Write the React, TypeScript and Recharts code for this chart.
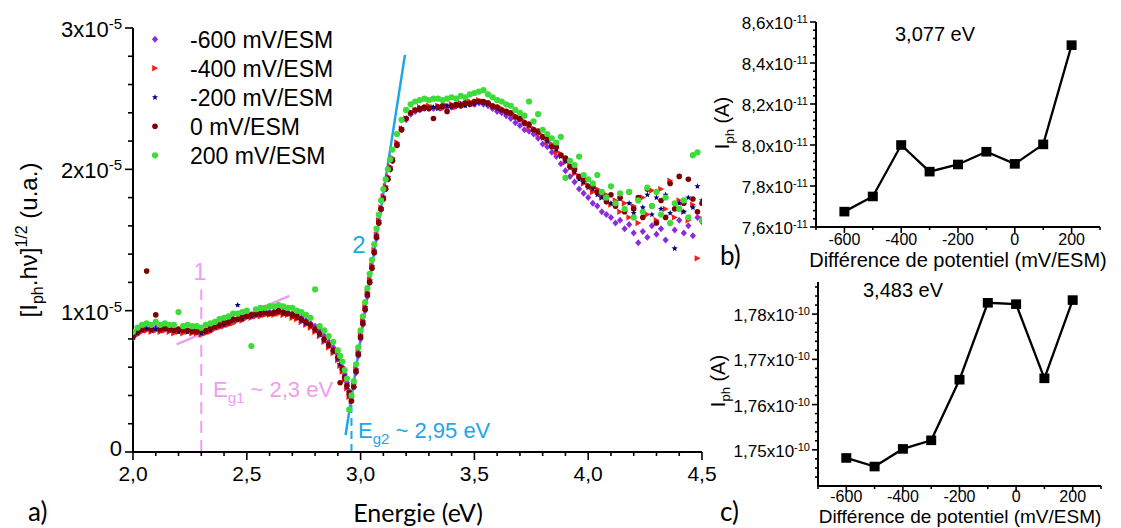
import React from 'react';
import { ScatterChart, Scatter, XAxis, YAxis, ReferenceLine, LineChart, Line } from 'recharts';

// ---------- Panel a) data : energy (eV) and [Iph.hv]^1/2 in units of 1e-5 ----------
const energies = [
  2.00, 2.02, 2.04, 2.06, 2.08, 2.10, 2.12, 2.14, 2.16, 2.18,
  2.20, 2.22, 2.24, 2.26, 2.28, 2.30, 2.32, 2.34, 2.36, 2.38,
  2.40, 2.42, 2.44, 2.46, 2.48, 2.50, 2.52, 2.54, 2.56, 2.58,
  2.60, 2.62, 2.64, 2.66, 2.68, 2.70, 2.72, 2.74, 2.76, 2.78,
  2.80, 2.82, 2.84, 2.86, 2.88, 2.90,
  2.91, 2.92, 2.93, 2.94, 2.95, 2.96, 2.97, 2.98, 2.99, 3.00,
  3.01, 3.02, 3.03, 3.04, 3.05, 3.06, 3.07, 3.08, 3.09, 3.10,
  3.11, 3.12, 3.13, 3.14,
  3.16, 3.18, 3.20, 3.22, 3.24, 3.26, 3.28, 3.30, 3.32, 3.34,
  3.36, 3.38, 3.40, 3.42, 3.44, 3.46, 3.48, 3.50, 3.52, 3.54,
  3.56, 3.58, 3.60, 3.62, 3.64, 3.66, 3.68, 3.70, 3.72, 3.74,
  3.76, 3.78, 3.80, 3.82, 3.84, 3.86, 3.88, 3.90, 3.92, 3.94,
  3.96, 3.98, 4.00, 4.02, 4.04, 4.06, 4.08, 4.10, 4.12, 4.14,
  4.16, 4.18, 4.20, 4.22, 4.24, 4.26, 4.28, 4.30, 4.32, 4.34,
  4.36, 4.38, 4.40, 4.42, 4.44, 4.46, 4.48, 4.50,
];

const valsM600 = [
  0.81, 0.85, 0.87, 0.88, 0.87, 0.88, 0.87, 0.88, 0.87, 0.87,
  0.86, 0.87, 0.86, 0.87, 0.86, 0.85, 0.86, 0.87, 0.89, 0.90,
  0.91, 0.92, 0.94, 0.94, 0.95, 0.96, 0.97, 0.98, 0.98, 0.98,
  0.99, 0.99, 0.99, 0.99, 0.99, 0.98, 0.97, 0.95, 0.93, 0.91,
  0.89, 0.86, 0.82, 0.78, 0.74, 0.69,
  0.65, 0.60, 0.55, 0.49, 0.43, 0.39, 0.46, 0.56, 0.68, 0.80,
  0.90, 1.00, 1.10, 1.20, 1.30, 1.41, 1.51, 1.62, 1.71, 1.79,
  1.86, 1.93, 2.00, 2.06,
  2.17, 2.28, 2.35, 2.39, 2.41, 2.42, 2.43, 2.43, 2.43, 2.44,
  2.44, 2.44, 2.44, 2.45, 2.45, 2.46, 2.46, 2.46, 2.47, 2.46,
  2.45, 2.43, 2.41, 2.40, 2.38, 2.36, 2.33, 2.31, 2.28, 2.27,
  2.25, 2.22, 2.18, 2.16, 2.12, 2.09, 2.04, 1.99, 1.95, 1.91,
  1.86, 1.83, 1.80, 1.76, 1.74, 1.70, 1.68, 1.66, 1.62, 1.64,
  1.58, 1.61, 1.55, 1.48, 1.56, 1.52, 1.60, 1.54, 1.58, 1.50,
  1.62, 1.57, 1.64, 1.55, 1.60, 1.53, 1.66, 1.63,
];

const valsM400 = [
  0.80, 0.83, 0.85, 0.86, 0.85, 0.86, 0.85, 0.86, 0.85, 0.84,
  0.85, 0.84, 0.85, 0.84, 0.84, 0.83, 0.84, 0.85, 0.87, 0.88,
  0.89, 0.90, 0.91, 0.93, 0.93, 0.95, 0.95, 0.96, 0.96, 0.97,
  0.97, 0.97, 0.98, 0.97, 0.97, 0.95, 0.94, 0.92, 0.90, 0.88,
  0.85, 0.82, 0.78, 0.74, 0.70, 0.65,
  0.61, 0.57, 0.51, 0.45, 0.39, 0.36, 0.48, 0.59, 0.71, 0.83,
  0.93, 1.03, 1.13, 1.22, 1.32, 1.43, 1.54, 1.64, 1.73, 1.81,
  1.88, 1.95, 2.02, 2.08,
  2.19, 2.29, 2.36, 2.40, 2.42, 2.44, 2.43, 2.45, 2.44, 2.45,
  2.43, 2.45, 2.46, 2.44, 2.47, 2.46, 2.48, 2.47, 2.49, 2.48,
  2.47, 2.45, 2.44, 2.43, 2.41, 2.40, 2.38, 2.35, 2.34, 2.30,
  2.29, 2.25, 2.24, 2.19, 2.18, 2.12, 2.11, 2.05, 2.03, 1.97,
  1.95, 1.90, 1.89, 1.84, 1.86, 1.80, 1.82, 1.75, 1.78, 1.70,
  1.76, 1.66, 1.74, 1.62, 1.80, 1.68, 1.85, 1.64, 1.86, 1.72,
  1.92, 1.66, 1.78, 1.70, 1.64, 1.75, 1.37, 1.65,
];

const valsM200 = [
  0.81, 0.84, 0.86, 0.87, 0.86, 0.87, 0.86, 0.87, 0.86, 0.86,
  0.85, 0.86, 0.85, 0.85, 0.85, 0.84, 0.85, 0.86, 0.88, 0.89,
  0.90, 0.91, 0.93, 1.04, 0.94, 0.96, 0.96, 0.97, 0.97, 0.98,
  0.98, 0.98, 0.99, 0.98, 0.98, 0.96, 0.95, 0.93, 0.91, 0.89,
  0.86, 0.83, 0.79, 0.75, 0.71, 0.66,
  0.62, 0.58, 0.52, 0.46, 0.40, 0.38, 0.48, 0.58, 0.70, 0.82,
  0.92, 1.02, 1.12, 1.21, 1.31, 1.42, 1.53, 1.63, 1.72, 1.80,
  1.87, 1.94, 2.01, 2.07,
  2.18, 2.29, 2.36, 2.40, 2.42, 2.42, 2.43, 2.43, 2.44, 2.43,
  2.44, 2.45, 2.44, 2.45, 2.46, 2.45, 2.47, 2.46, 2.48, 2.47,
  2.46, 2.44, 2.43, 2.42, 2.40, 2.39, 2.37, 2.35, 2.32, 2.31,
  2.28, 2.26, 2.22, 2.20, 2.16, 2.14, 2.09, 2.06, 2.01, 1.98,
  1.93, 1.91, 1.87, 1.86, 1.82, 1.80, 1.78, 1.76, 1.74, 1.79,
  1.71, 1.76, 1.69, 1.78, 1.73, 1.82, 1.68, 1.80, 1.72, 1.82,
  1.69, 1.44, 1.76, 1.70, 1.80, 1.73, 1.88, 1.78,
];

const vals0 = [
  0.82, 0.85, 0.87, 1.28, 0.87, 0.97, 0.87, 0.88, 0.87, 0.86,
  0.87, 0.86, 0.86, 0.86, 0.85, 0.86, 0.86, 0.88, 0.89, 0.90,
  0.92, 0.92, 0.94, 0.94, 0.96, 0.96, 0.97, 0.98, 0.98, 0.99,
  0.98, 0.99, 1.00, 0.99, 0.98, 0.97, 0.96, 0.94, 0.92, 0.90,
  0.87, 0.84, 0.80, 0.76, 0.72, 0.67,
  0.49, 0.59, 0.53, 0.47, 0.42, 0.36, 0.46, 0.57, 0.69, 0.81,
  0.91, 1.01, 1.11, 1.20, 1.30, 1.41, 1.52, 1.62, 1.72, 1.79,
  1.86, 1.93, 2.00, 2.06,
  2.17, 2.28, 2.36, 2.40, 2.42, 2.43, 2.44, 2.43, 2.36, 2.44,
  2.45, 2.41, 2.45, 2.46, 2.45, 2.47, 2.46, 2.48, 2.48, 2.48,
  2.47, 2.45, 2.44, 2.42, 2.41, 2.40, 2.37, 2.36, 2.33, 2.32,
  2.28, 2.27, 2.23, 2.22, 2.16, 2.16, 2.10, 2.08, 2.02, 2.00,
  1.95, 1.93, 1.88, 1.88, 1.84, 1.83, 1.77, 1.82, 1.74, 1.80,
  1.70, 1.84, 1.72, 1.80, 1.66, 1.86, 1.74, 1.62, 1.78, 1.66,
  1.90, 1.72, 1.95, 1.76, 1.93, 1.79, 1.70, 1.76,
];

const valsP200 = [
  0.85, 0.88, 0.90, 0.91, 0.90, 0.92, 0.90, 0.91, 0.90, 0.90,
  0.99, 0.89, 0.90, 0.89, 0.89, 0.88, 0.90, 0.91, 0.92, 0.94,
  0.95, 0.96, 0.98, 0.98, 0.99, 1.00, 0.75, 1.01, 1.02, 1.02,
  1.03, 1.03, 1.04, 1.03, 1.02, 1.02, 1.00, 0.99, 0.97, 0.95,
  1.15, 0.89, 0.86, 0.82, 0.78, 0.72,
  0.68, 0.64, 0.58, 0.52, 0.30, 0.40, 0.50, 0.62, 0.74, 0.86,
  0.96, 1.06, 1.16, 1.26, 1.36, 1.47, 1.58, 1.68, 1.78, 1.86,
  1.93, 2.00, 2.07, 2.14,
  2.25, 2.35, 2.42, 2.46, 2.48, 2.49, 2.50, 2.49, 2.50, 2.50,
  2.49, 2.50, 2.51, 2.50, 2.52, 2.51, 2.53, 2.54, 2.55, 2.56,
  2.53, 2.51, 2.49, 2.48, 2.46, 2.45, 2.42, 2.40, 2.38, 2.48,
  2.34, 2.39, 2.28, 2.25, 2.22, 2.19, 2.23, 1.94, 2.06, 2.03,
  2.09, 1.96, 1.93, 1.90, 1.96, 1.84, 1.80, 1.88, 1.76, 1.83,
  1.72, 1.84, 1.66, 1.78, 1.70, 1.87, 1.74, 1.84, 1.68, 1.80,
  1.62, 1.76, 1.72, 1.78, 1.66, 2.10, 2.12, 1.64,
];

const legendLabels = ['-600 mV/ESM', '-400 mV/ESM', '-200 mV/ESM', '0 mV/ESM', '200 mV/ESM'];
const seriesColors = ['#8a2be2', '#ff1a1a', '#000080', '#800000', '#3ddc3a'];

const mainXTicks = [2.0, 2.1, 2.2, 2.3, 2.4, 2.5, 2.6, 2.7, 2.8, 2.9, 3.0, 3.1, 3.2, 3.3, 3.4, 3.5, 3.6, 3.7, 3.8, 3.9, 4.0, 4.1, 4.2, 4.3, 4.4, 4.5];
const mainYTicks = [0, 0.2, 0.4, 0.6, 0.8, 1, 1.2, 1.4, 1.6, 1.8, 2, 2.2, 2.4, 2.6, 2.8, 3];

// ---------- Panels b) and c) ----------
const potentials = [-600, -500, -400, -300, -200, -100, 0, 100, 200];
const iph3077 = [7.675, 7.749, 8.0, 7.87, 7.905, 7.967, 7.908, 8.003, 8.487]; // x1e-11 A
const iph3483 = [1.7482, 1.7463, 1.7502, 1.7521, 1.7655, 1.7825, 1.7822, 1.7658, 1.7831]; // x1e-10 A
const potTicks = [-700, -600, -500, -400, -300, -200, -100, 0, 100, 200, 300];
const bYTicks = [7.6, 7.64, 7.68, 7.72, 7.76, 7.8, 7.84, 7.88, 7.92, 7.96, 8.0, 8.04, 8.08, 8.12, 8.16, 8.2, 8.24, 8.28, 8.32, 8.36, 8.4, 8.44, 8.48, 8.52, 8.56, 8.6];
const cYTicks = [1.744, 1.746, 1.748, 1.75, 1.752, 1.754, 1.756, 1.758, 1.76, 1.762, 1.764, 1.766, 1.768, 1.77, 1.772, 1.774, 1.776, 1.778, 1.78, 1.782, 1.784, 1.786];

const FONT = '"Liberation Sans", Arial, sans-serif';
const FONT2 = 'Lato, "Open Sans", sans-serif';
const PINK = '#f09cf0';
const BLUE = '#1fa5e8';

const near = (v: number, step: number) => Math.abs(v / step - Math.round(v / step)) < 1e-6;

type TickCfg = {
  step: number;
  fmt: (v: number) => React.ReactNode;
  font: number;
  majorLen: number;
  minorLen: number;
  gap: number;
  dy?: number;
  zeroDy?: number;
};

const renderXTick = (p: any, c: TickCfg) => {
  const v = p.payload.value;
  const major = near(v, c.step);
  return (
    <g>
      <line x1={p.x} x2={p.x} y1={p.y} y2={p.y + (major ? c.majorLen : c.minorLen)} stroke="#000" strokeWidth={1.6} />
      {major ? (
        <text x={p.x} y={p.y + c.gap} textAnchor="middle" fontSize={c.font} fontFamily={FONT} fill="#000">
          {c.fmt(v)}
        </text>
      ) : null}
    </g>
  );
};

const renderYTick = (p: any, c: TickCfg) => {
  const v = p.payload.value;
  const major = near(v, c.step);
  const dy = v === 0 && c.zeroDy !== undefined ? c.zeroDy : c.dy || 0;
  return (
    <g>
      <line x1={p.x - (major ? c.majorLen : c.minorLen)} x2={p.x} y1={p.y} y2={p.y} stroke="#000" strokeWidth={1.6} />
      {major ? (
        <text x={p.x - c.gap} y={p.y + dy} textAnchor="end" fontSize={c.font} fontFamily={FONT} fill="#000">
          {c.fmt(v)}
        </text>
      ) : null}
    </g>
  );
};

const sci = (base: string, exp: string, supSize: number, raise: number) => [
  <tspan key="b">{base}x10</tspan>,
  <tspan key="e" fontSize={supSize} dy={-raise}>{exp}</tspan>,
];

const mainXCfg: TickCfg = { step: 0.5, fmt: (v) => v.toFixed(1).replace('.', ','), font: 21, majorLen: 8, minorLen: 4, gap: 29 };
const mainYCfg: TickCfg = { step: 1, fmt: (v) => (v === 0 ? '0' : sci(String(v), '-5', 15, 8)), font: 22, majorLen: 8, minorLen: 5, gap: 11, dy: 9, zeroDy: 4 };
const bXCfg: TickCfg = { step: 200, fmt: (v) => String(v), font: 16, majorLen: 6, minorLen: 3, gap: 18 };
const cXCfg: TickCfg = { step: 200, fmt: (v) => String(v), font: 16, majorLen: 6, minorLen: 3, gap: 16 };
const bYCfg: TickCfg = { step: 0.2, fmt: (v) => sci(v.toFixed(1).replace('.', ','), '-11', 11, 6), font: 17, majorLen: 6, minorLen: 3, gap: 8, dy: 7 };
const cYCfg: TickCfg = { step: 0.01, fmt: (v) => sci(v.toFixed(2).replace('.', ','), '-10', 11, 6), font: 17, majorLen: 6, minorLen: 3, gap: 8, dy: 7 };

// ---------- marker shapes ----------
const starPts = (cx: number, cy: number, R: number, r: number) => {
  const pts: string[] = [];
  for (let k = 0; k < 10; k++) {
    const a = -Math.PI / 2 + (k * Math.PI) / 5;
    const rad = k % 2 === 0 ? R : r;
    pts.push(`${cx + rad * Math.cos(a)},${cy + rad * Math.sin(a)}`);
  }
  return pts.join(' ');
};

const drawMarker = (i: number, cx: number, cy: number) => {
  const col = seriesColors[i];
  if (i === 0) return <polygon points={`${cx},${cy - 3.5} ${cx + 3.1},${cy} ${cx},${cy + 3.5} ${cx - 3.1},${cy}`} fill={col} />;
  if (i === 1) return <polygon points={`${cx - 2.8},${cy - 3.2} ${cx + 3.2},${cy} ${cx - 2.8},${cy + 3.2}`} fill={col} />;
  if (i === 2) return <polygon points={starPts(cx, cy, 3.2, 1.4)} fill={col} />;
  if (i === 3) return <circle cx={cx} cy={cy} r={2.8} fill={col} />;
  return <circle cx={cx} cy={cy} r={3.1} fill={col} />;
};

const seriesValues = [valsM600, valsM400, valsM200, vals0, valsP200];
const seriesData = seriesValues.map((vals) =>
  energies.map((e, i) => ({ x: e, y: vals[i] })).filter((d) => typeof d.y === 'number')
);

const bData = potentials.map((p, i) => ({ p, v: iph3077[i] }));
const cData = potentials.map((p, i) => ({ p, v: iph3483[i] }));

const squareDot = (props: any) => {
  const { cx, cy, index } = props;
  return <rect key={`sq-${index}`} x={cx - 5} y={cy - 4.8} width={10} height={9.6} fill="#000" />;
};

const axisLine = { stroke: '#000', strokeWidth: 2 };

export default function App() {
  return (
    <div style={{ position: 'absolute', left: 0, top: 0, width: 1121, height: 528, background: '#fff', overflow: 'hidden' }}>
      {/* Panel a */}
      <div style={{ position: 'absolute', left: 0, top: 0 }}>
        <ScatterChart width={720} height={528} margin={{ top: 28, right: 18, bottom: 46, left: 73 }}>
          <XAxis
            type="number"
            dataKey="x"
            domain={[2, 4.5]}
            ticks={mainXTicks}
            interval={0}
            height={30}
            tickSize={0}
            tickMargin={0}
            tickLine={false}
            axisLine={axisLine}
            allowDataOverflow
            tick={(p: any) => renderXTick(p, mainXCfg)}
          />
          <YAxis
            type="number"
            dataKey="y"
            domain={[0, 3]}
            ticks={mainYTicks}
            interval={0}
            width={60}
            tickSize={0}
            tickMargin={0}
            tickLine={false}
            axisLine={axisLine}
            allowDataOverflow
            tick={(p: any) => renderYTick(p, mainYCfg)}
          />
          {seriesData.map((d, i) => (
            <Scatter
              key={legendLabels[i]}
              name={legendLabels[i]}
              data={d}
              fill={seriesColors[i]}
              isAnimationActive={false}
              shape={(p: any) => drawMarker(i, p.cx, p.cy)}
            />
          ))}
          <ReferenceLine segment={[{ x: 2.3, y: 0 }, { x: 2.3, y: 1.15 }]} stroke={PINK} strokeWidth={2} strokeDasharray="12 7" ifOverflow="visible" />
          <ReferenceLine segment={[{ x: 2.192, y: 0.762 }, { x: 2.687, y: 1.104 }]} stroke={PINK} strokeWidth={2.5} ifOverflow="visible" />
          <ReferenceLine segment={[{ x: 2.96, y: 0 }, { x: 2.96, y: 0.45 }]} stroke={BLUE} strokeWidth={2} strokeDasharray="8 5" ifOverflow="visible" />
          <ReferenceLine segment={[{ x: 2.934, y: 0.12 }, { x: 3.195, y: 2.81 }]} stroke={BLUE} strokeWidth={2.5} ifOverflow="visible" />
        </ScatterChart>
      </div>

      {/* Panel b */}
      <div style={{ position: 'absolute', left: 720, top: 0 }}>
        <LineChart width={401} height={270} data={bData} margin={{ top: 22, right: 21, bottom: 13, left: 36 }}>
          <XAxis
            type="number"
            dataKey="p"
            domain={[-700, 300]}
            ticks={potTicks}
            interval={0}
            height={30}
            tickSize={0}
            tickMargin={0}
            tickLine={false}
            axisLine={axisLine}
            tick={(p: any) => renderXTick(p, bXCfg)}
          />
          <YAxis
            type="number"
            domain={[7.6, 8.6]}
            ticks={bYTicks}
            interval={0}
            width={60}
            tickSize={0}
            tickMargin={0}
            tickLine={false}
            axisLine={axisLine}
            allowDataOverflow
            tick={(p: any) => renderYTick(p, bYCfg)}
          />
          <Line dataKey="v" stroke="#000" strokeWidth={2.3} dot={squareDot} activeDot={false} isAnimationActive={false} />
        </LineChart>
      </div>

      {/* Panel c */}
      <div style={{ position: 'absolute', left: 720, top: 270 }}>
        <LineChart width={401} height={258} data={cData} margin={{ top: 12, right: 20, bottom: 12, left: 38 }}>
          <XAxis
            type="number"
            dataKey="p"
            domain={[-700, 300]}
            ticks={potTicks}
            interval={0}
            height={30}
            tickSize={0}
            tickMargin={0}
            tickLine={false}
            axisLine={axisLine}
            tick={(p: any) => renderXTick(p, cXCfg)}
          />
          <YAxis
            type="number"
            domain={[1.742, 1.7871]}
            ticks={cYTicks}
            interval={0}
            width={60}
            tickSize={0}
            tickMargin={0}
            tickLine={false}
            axisLine={axisLine}
            allowDataOverflow
            tick={(p: any) => renderYTick(p, cYCfg)}
          />
          <Line dataKey="v" stroke="#000" strokeWidth={2.3} dot={squareDot} activeDot={false} isAnimationActive={false} />
        </LineChart>
      </div>

      {/* Text overlay */}
      <svg width={1121} height={528} style={{ position: 'absolute', left: 0, top: 0, pointerEvents: 'none' }}>
        {legendLabels.map((lab, i) => (
          <g key={lab}>
            {drawMarker(i, 155, 39.3 + 29 * i)}
            <text x={190} y={48 + 29 * i} fontSize={23} fontFamily={FONT} fill="#000">{lab}</text>
          </g>
        ))}

        <text x={200} y={280} textAnchor="middle" fontSize={23} fontFamily={FONT} fill={PINK}>1</text>
        <text x={213} y={397} fontSize={22} fontFamily={FONT} fill={PINK}>
          <tspan>E</tspan>
          <tspan fontSize={15} dy={6}>g1</tspan>
          <tspan dy={-6}> ~ 2,3 eV</tspan>
        </text>
        <text x={359} y={253} textAnchor="middle" fontSize={24} fontFamily={FONT} fill={BLUE}>2</text>
        <text x={358} y={438} fontSize={22} fontFamily={FONT} fill={BLUE}>
          <tspan>E</tspan>
          <tspan fontSize={15} dy={6}>g2</tspan>
          <tspan dy={-6}> ~ 2,95 eV</tspan>
        </text>

        <text transform="translate(37,240) rotate(-90)" textAnchor="middle" fontSize={24} fontFamily={FONT} fill="#000">
          <tspan>[I</tspan>
          <tspan fontSize={16} dy={6}>ph</tspan>
          <tspan dy={-6}>.hν]</tspan>
          <tspan fontSize={16} dy={-10}>1/2</tspan>
          <tspan dy={10}> (u.a.)</tspan>
        </text>
        <text x={418} y={522} textAnchor="middle" fontSize={25} fontFamily={FONT2} fill="#000">Energie (eV)</text>
        <text x={28} y={521} fontSize={26} fontFamily={FONT2} fill="#000">a)</text>

        <text transform="translate(729,123) rotate(-90)" textAnchor="middle" fontSize={20} fontFamily={FONT} fill="#000">
          <tspan>I</tspan>
          <tspan fontSize={13} dy={5}>ph</tspan>
          <tspan dy={-5}> (A)</tspan>
        </text>
        <text x={895} y={41} fontSize={20} fontFamily={FONT} fill="#000">3,077 eV</text>
        <text x={958} y={267} textAnchor="middle" fontSize={20} fontFamily={FONT} fill="#000">Différence de potentiel (mV/ESM)</text>
        <text x={720} y={265} fontSize={26} fontFamily={FONT2} fill="#000">b)</text>

        <text transform="translate(725,381) rotate(-90)" textAnchor="middle" fontSize={20} fontFamily={FONT} fill="#000">
          <tspan>I</tspan>
          <tspan fontSize={13} dy={5}>ph</tspan>
          <tspan dy={-5}> (A)</tspan>
        </text>
        <text x={863} y={297} fontSize={20} fontFamily={FONT} fill="#000">3,483 eV</text>
        <text x={960} y={523} textAnchor="middle" fontSize={19} fontFamily={FONT} fill="#000">Différence de potentiel (mV/ESM)</text>
        <text x={720} y={521} fontSize={26} fontFamily={FONT2} fill="#000">c)</text>
      </svg>
    </div>
  );
}
